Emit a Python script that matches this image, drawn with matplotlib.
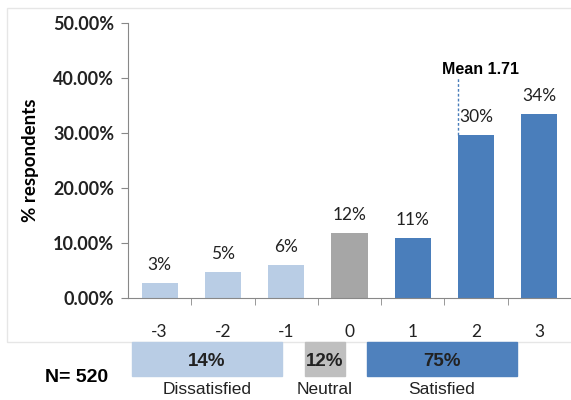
import numpy as np
import matplotlib.pyplot as plt
from matplotlib.patches import Rectangle

# satisfaction scale, share of respondents
scores = [-3, -2, -1, 0, 1, 2, 3]
shares = [0.027, 0.047, 0.060, 0.118, 0.109, 0.296, 0.335]
share_labels = ['3%', '5%', '6%', '12%', '11%', '30%', '34%']
mean_score = 1.71
n_resp = 520

group_names = ['Dissatisfied', 'Neutral', 'Satisfied']
group_shares = ['14%', '12%', '75%']

light = '#B9CDE5'
grey = '#A6A6A6'
blue = '#4A7EBB'
bar_colors = [light, light, light, grey, blue, blue, blue]
box_colors = [light, '#BFBFBF', '#4F81BD']

fig = plt.figure(figsize=(5.71, 4.0), dpi=100)
ax = fig.add_axes([128 / 571, 0.255, 1 - 128 / 571, 0.6875])

ax.bar(scores, shares, width=0.57, color=bar_colors)
for x, v, lab in zip(scores, shares, share_labels):
    ax.annotate(lab, (x, v), xytext=(0, 7), textcoords='offset points',
                ha='center', va='bottom', fontsize=12.5, family='Lato', color='#222222')

# mean marker
ax.plot([mean_score, mean_score], [shares[5], 0.40], ls=(0, (2, 1.5)), color='#4A7EBB', lw=1)
ax.annotate('Mean %.2f' % mean_score, (mean_score, 0.40), xytext=(-11, 1),
            textcoords='offset points', ha='left', va='bottom',
            fontsize=11.5, family='Liberation Sans', fontweight='bold')

ax.set_xlim(-3.5, 3.5)
ax.set_ylim(0, 0.5)
ax.set_yticks(np.arange(0, 0.51, 0.1))
ax.set_yticklabels(['%.2f%%' % (t * 100) for t in np.arange(0, 0.51, 0.1)],
                   fontsize=13, family='Lato', fontweight='bold', color='#222222')
ax.set_xticks(scores)
ax.set_xticklabels([str(s) for s in scores], fontsize=12.5, family='Lato', color='#222222')
ax.set_xticks(np.arange(-2.5, 3.6, 1), minor=True)
ax.tick_params(axis='x', which='major', length=0, pad=19)
ax.tick_params(axis='x', which='minor', length=5, color='#888888')
ax.tick_params(axis='y', length=5, color='#888888', pad=5)
ax.set_ylabel('% respondents', fontsize=13.5, family='Lato', fontweight='bold', labelpad=10)
for s in ['top', 'right']:
    ax.spines[s].set_visible(False)
for s in ['left', 'bottom']:
    ax.spines[s].set_color('#888888')

# faint frame around chart area
fig.add_artist(Rectangle((7 / 571, 1 - 342 / 400), 1, (342 - 8) / 400,
                         transform=fig.transFigure, fill=False, ec='#E6E6E6', lw=1))

# group summary boxes
box_x = [(132, 282), (305, 345), (367, 517)]
for (x0, x1), name, share, col in zip(box_x, group_names, group_shares, box_colors):
    fig.add_artist(Rectangle((x0 / 571, 1 - 376 / 400), (x1 - x0) / 571, 34 / 400,
                             transform=fig.transFigure, color=col))
    cx = (x0 + x1) / 2 / 571
    fig.text(cx, 1 - 361 / 400, share, ha='center', va='center', fontsize=13.5,
             fontweight='bold', family='Liberation Sans', color='#222222')
    fig.text(cx, 1 - 390 / 400, name, ha='center', va='center', fontsize=12.5,
             family='Liberation Sans', color='#222222')

fig.text(77 / 571, 1 - 377 / 400, 'N= %d' % n_resp, ha='center', va='center',
         fontsize=14, fontweight='bold', family='Liberation Sans')

fig.savefig('out.png', dpi=100)
